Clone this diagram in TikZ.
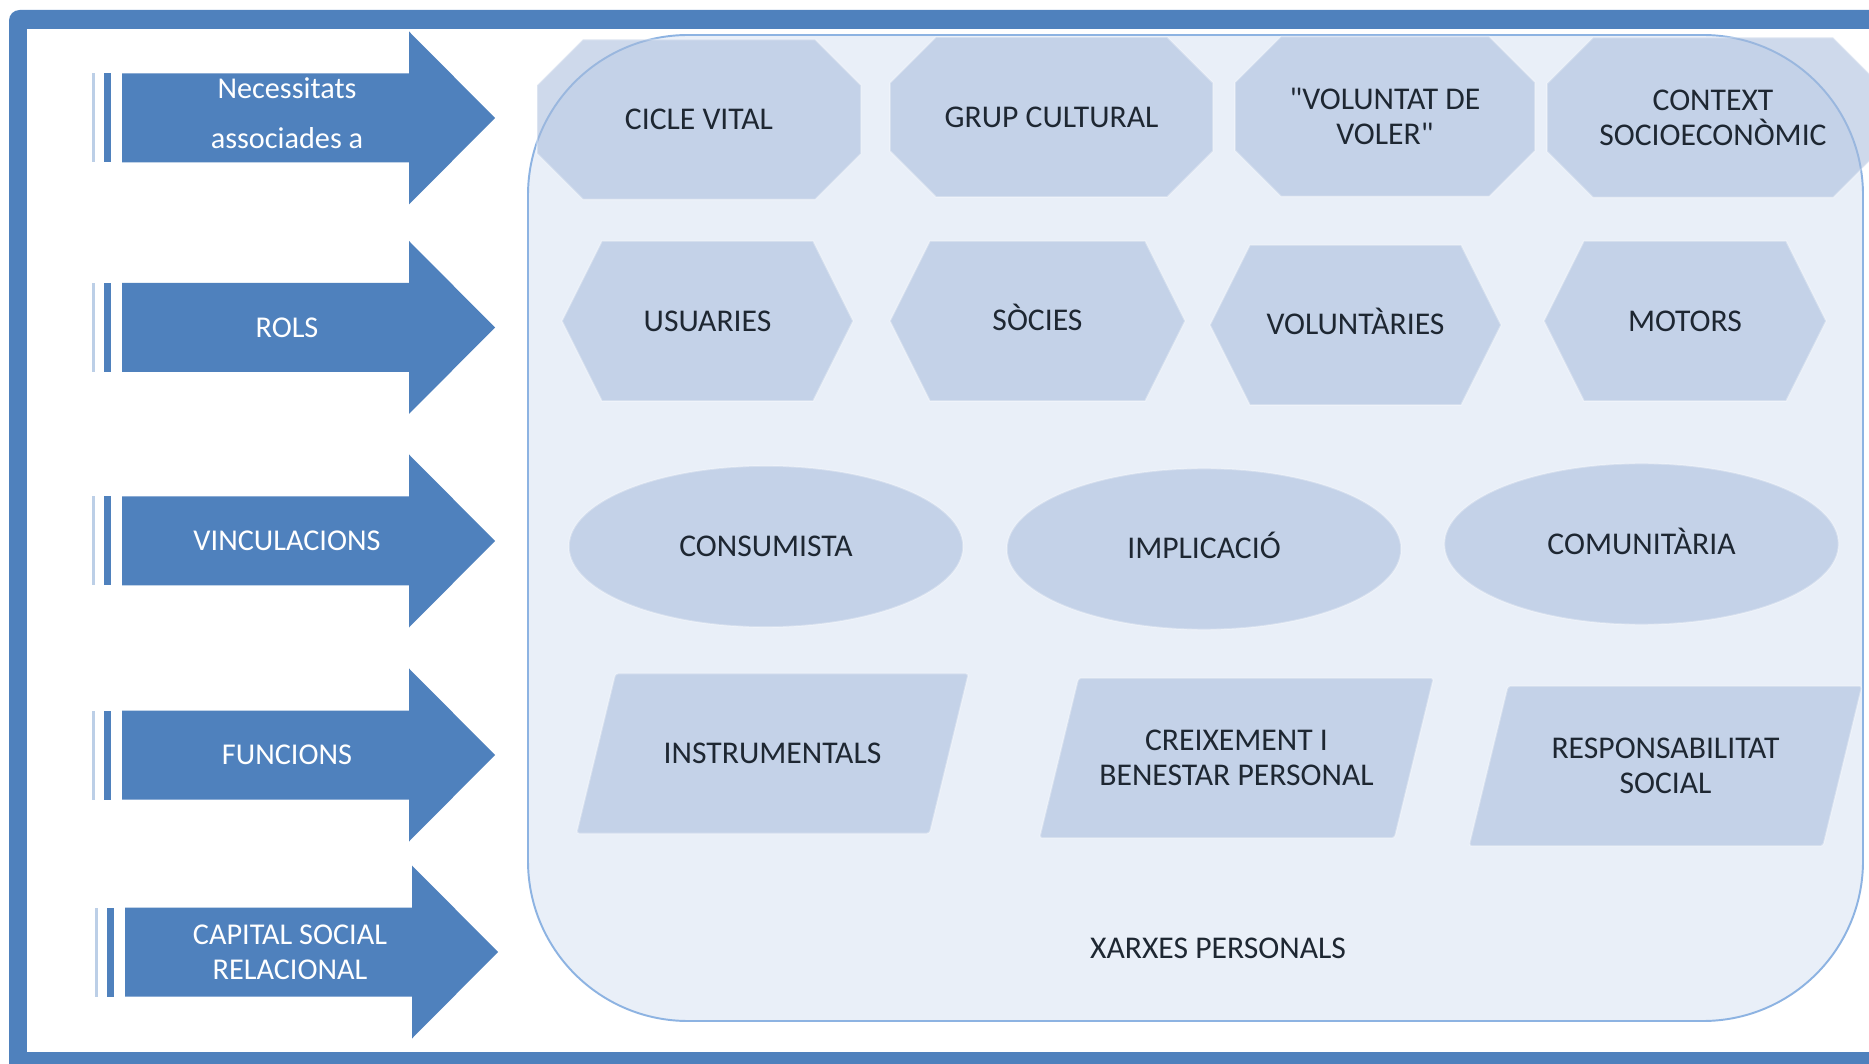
\documentclass[tikz,border=0pt]{standalone}
\usepackage{fontspec}
\setmainfont{Carlito}[Ligatures=TeXOff]
\usetikzlibrary{shapes.geometric}
\definecolor{FrameBlue}{HTML}{4F81BD}
\definecolor{BarLight}{HTML}{BCCFE7}
\definecolor{NetFill}{HTML}{E9EFF8}
\definecolor{NetLine}{HTML}{8DB3E2}
\definecolor{CellFill}{HTML}{A6BBDC}
\definecolor{LabelInk}{HTML}{1E2732}
\begin{document}
\begin{tikzpicture}[x=0.01cm, y=-0.01cm,
  arrowlbl/.style={text=white, align=center, font=\fontsize{8.6}{10}\selectfont, inner sep=0pt},
  celllbl/.style={text=LabelInk, align=center, font=\fontsize{9}{10}\selectfont, inner sep=0pt},
  cell/.style={fill=CellFill, fill opacity=0.55, draw=white, draw opacity=0.3, line width=0.5pt},
]
\useasboundingbox (0,0) rectangle (1869,1064);
\clip (0,0) rectangle (1869,1064);
\fill[FrameBlue, rounded corners=3pt] (9,10) rectangle (1900,1100);
\fill[white] (27,29) rectangle (1900,1052);
\draw[fill=NetFill, draw=NetLine, line width=0.55pt, rounded corners=1.6cm] (528,35) rectangle (1863,1021);
\node[celllbl] (xarxes) at (1218,948) {XARXES PERSONALS};
\foreach \nm/\y/\ty/\dx/\txt in {necess/118/113/0/{Necessitats\\[4.2pt]associades a}, rols/327.5/327.5/0/ROLS, vinc/541/541/0/VINCULACIONS, func/755/755/0/FUNCIONS, capital/952/952/3/{CAPITAL SOCIAL\\RELACIONAL}}{
  \fill[BarLight] (92+\dx,\y-44.5) rectangle (94.5+\dx,\y+44.5);
  \fill[FrameBlue] (104+\dx,\y-44.5) rectangle (111+\dx,\y+44.5);
  \fill[FrameBlue] (122+\dx,\y-44.5) -- (409+\dx,\y-44.5) -- (409+\dx,\y-86.5) -- (495+\dx,\y)
    -- (409+\dx,\y+86.5) -- (409+\dx,\y+44.5) -- (122+\dx,\y+44.5) -- cycle;
  \node[arrowlbl] (\nm) at (287+\dx,\ty) {\txt};
}
\foreach \nm/\cx/\cy/\w/\txt in {cicle/699/119.5/324/{CICLE VITAL}, grup/1051.5/117/323/{GRUP CULTURAL}, voler/1385/116.5/300/{"VOLUNTAT DE\\VOLER"}, context/1713/117.5/332/{CONTEXT\\SOCIOECONÒMIC}}{
  \path[cell] (\cx-\w/2+46,\cy-80) -- (\cx+\w/2-46,\cy-80) -- (\cx+\w/2,\cy-34) -- (\cx+\w/2,\cy+34)
    -- (\cx+\w/2-46,\cy+80) -- (\cx-\w/2+46,\cy+80) -- (\cx-\w/2,\cy+34) -- (\cx-\w/2,\cy-34) -- cycle;
  \node[celllbl] (\nm) at (\cx,\cy) {\txt};
}
\foreach \nm/\cx/\cy/\ty/\w/\txt in {usuaries/707.5/321/321/291/USUARIES, socies/1037.5/321/317/295/SÒCIES, volunt/1355.5/325/321/291/VOLUNTÀRIES, motors/1685/321/321/282/MOTORS}{
  \path[cell] (\cx-\w/2,\cy) -- (\cx-\w/2+40,\cy-80) -- (\cx+\w/2-40,\cy-80) -- (\cx+\w/2,\cy)
    -- (\cx+\w/2-40,\cy+80) -- (\cx-\w/2+40,\cy+80) -- cycle;
  \node[celllbl] (\nm) at (\cx,\ty) {\txt};
}
\foreach \nm/\cx/\cy/\ty/\txt in {consum/766/546.5/546.5/CONSUMISTA, implic/1204/549/545/IMPLICACIÓ, comun/1641.5/544/541/COMUNITÀRIA}{
  \path[cell] (\cx,\cy) ellipse [x radius=1.97cm, y radius=0.805cm];
  \node[celllbl] (\nm) at (\cx,\ty) {\txt};
}
\foreach \nm/\cx/\cy/\w/\txt in {instr/772.5/753.5/353/INSTRUMENTALS, creix/1236.5/758/355/{CREIXEMENT I\\BENESTAR PERSONAL}, respons/1665.5/766/354/{RESPONSABILITAT\\SOCIAL}}{
  \path[cell, rounded corners=0.8pt] (\cx-\w/2+19.5,\cy-80) -- (\cx+\w/2+19.5,\cy-80)
    -- (\cx+\w/2-19.5,\cy+80) -- (\cx-\w/2-19.5,\cy+80) -- cycle;
  \node[celllbl] (\nm) at (\cx,\cy) {\txt};
}
\end{tikzpicture}
\end{document}
